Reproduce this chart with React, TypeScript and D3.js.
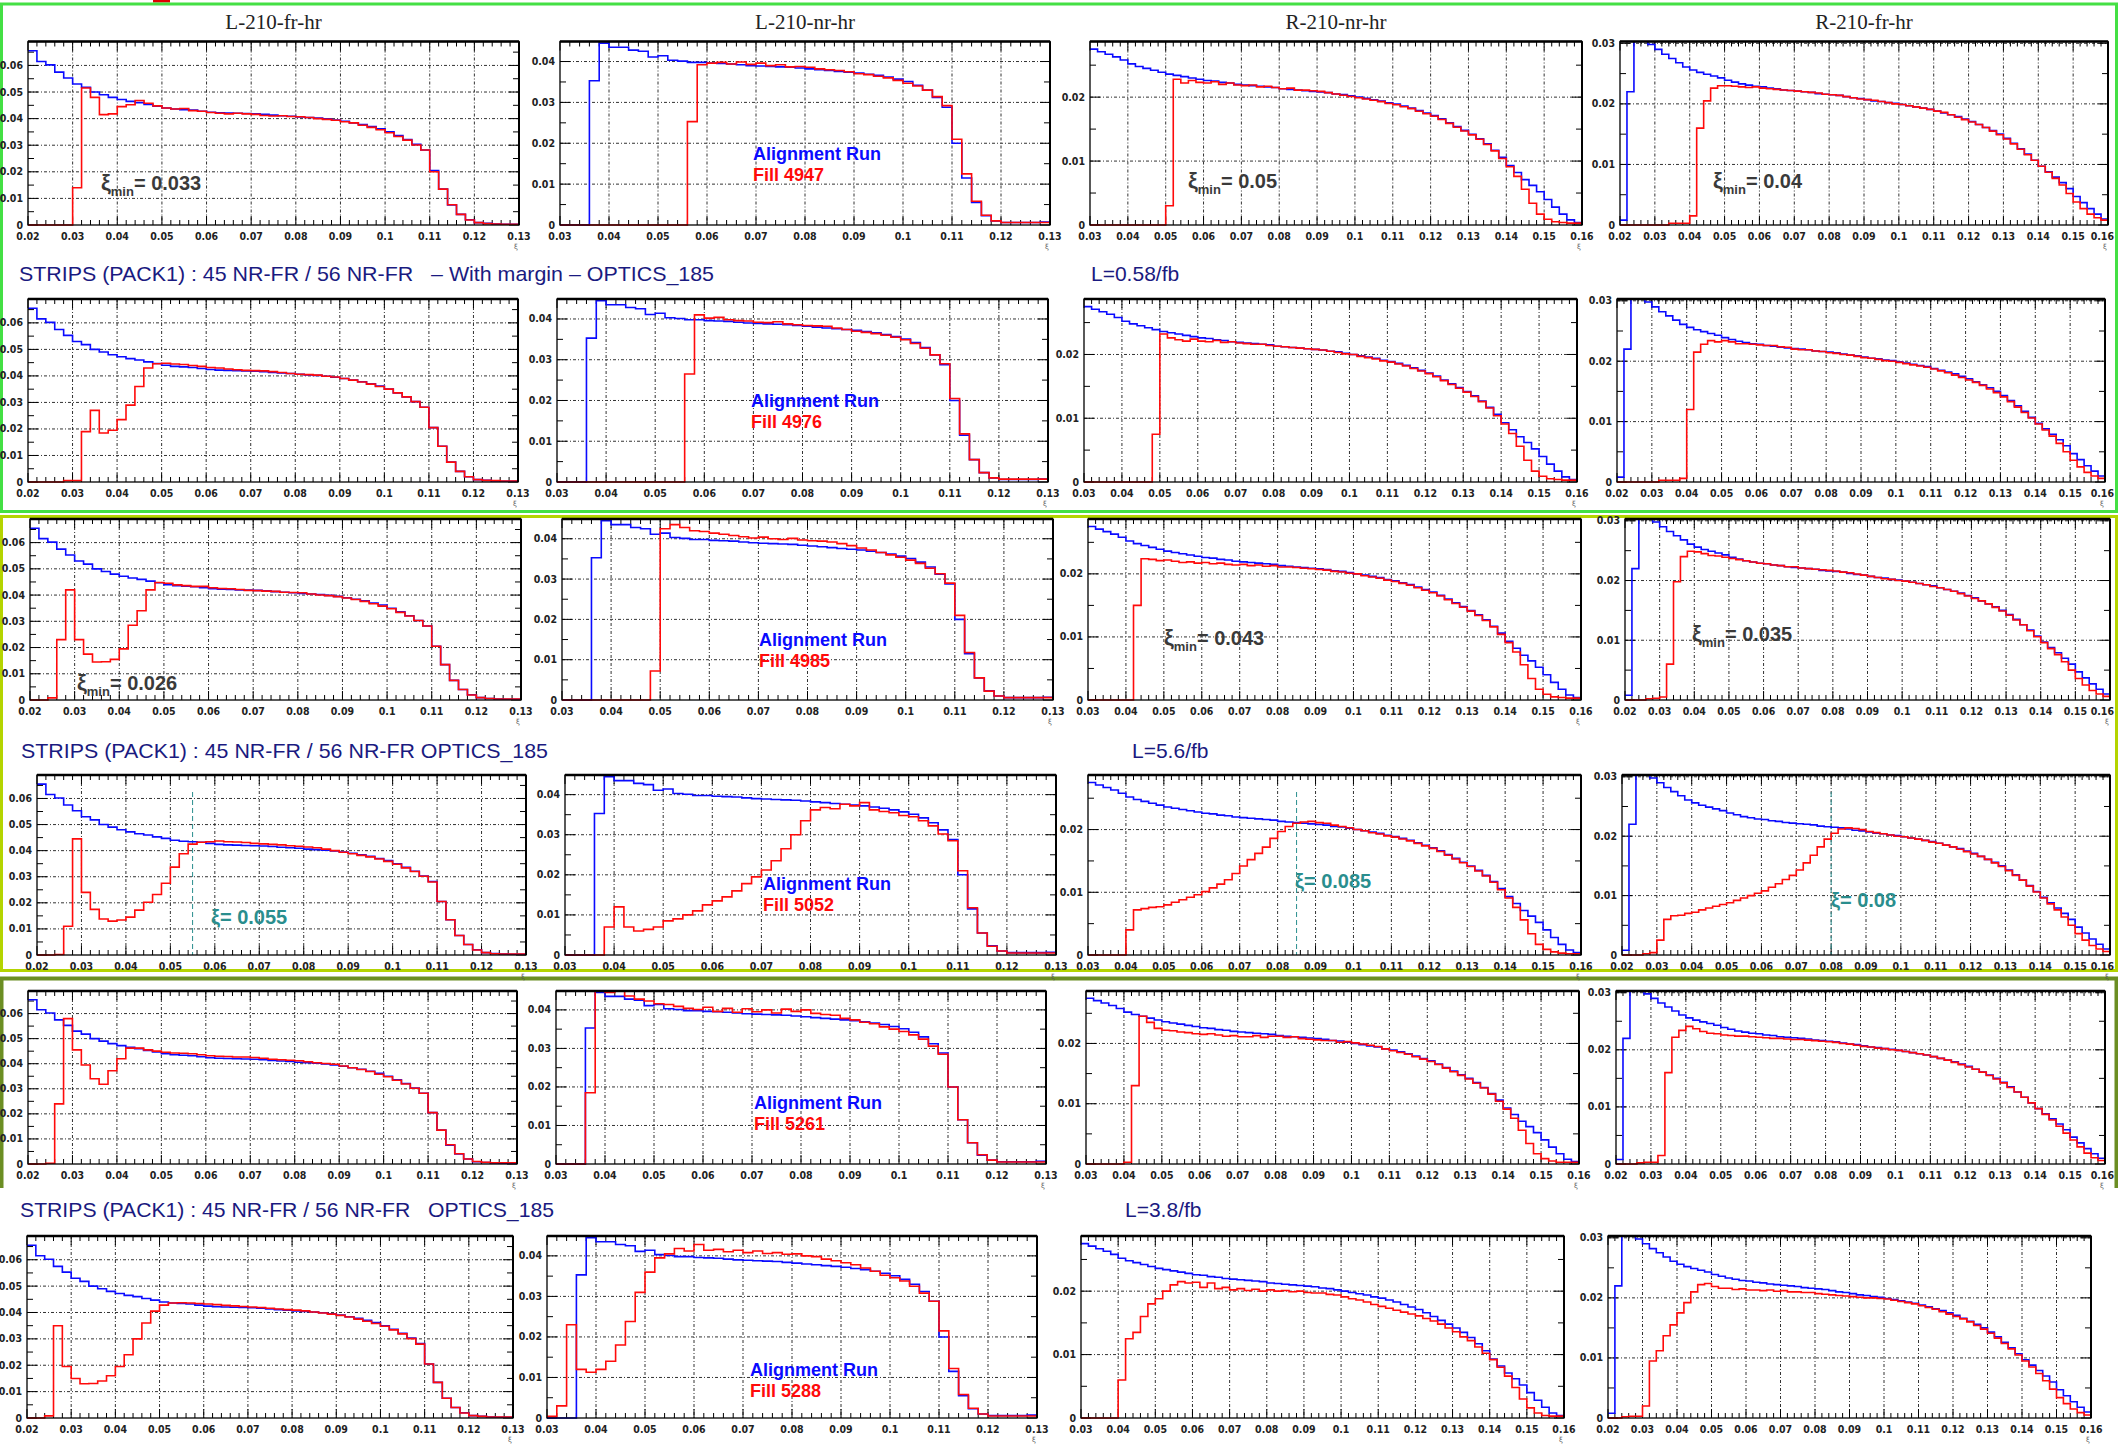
import React from "react";
import * as d3 from "d3";

// ================= DATA =================
const columnTitles = ["L-210-fr-hr", "L-210-nr-hr", "R-210-nr-hr", "R-210-fr-hr"];
const xiStart = [0.02, 0.03, 0.03, 0.02];
const xiEnd = [0.13, 0.13, 0.16, 0.16];
const yTop = [0.069, 0.0449, 0.0287, 0.0303];
const yTickLabels = [
  [0, 0.01, 0.02, 0.03, 0.04, 0.05, 0.06],
  [0, 0.01, 0.02, 0.03, 0.04],
  [0, 0.01, 0.02],
  [0, 0.01, 0.02, 0.03],
];
const binWidth = 0.002;
const valueUnit = 1e-4; // values below are in units of 1e-4

const fillNumbers = ["4947", "4976", "4985", "5052", "5261", "5288"];
const headerTexts = [
  "STRIPS (PACK1) : 45 NR-FR / 56 NR-FR   \u2013 With margin \u2013 OPTICS_185",
  "STRIPS (PACK1) : 45 NR-FR / 56 NR-FR OPTICS_185",
  "STRIPS (PACK1) : 45 NR-FR / 56 NR-FR   OPTICS_185",
];
const lumiTexts = ["L=0.58/fb", "L=5.6/fb", "L=3.8/fb"];
const xiMinLabels = ["0.033", "0.05", "0.04", "0.026", "0.043", "0.035"];
const xiCutValues = [0.055, 0.085, 0.08];
const xiCutLabels = ["0.055", "0.085", "0.08"];

// Alignment run (blue), one per column
const alignmentRunCol1 = [655,615,602,575,553, 530,518,500,490,480, 472,465,460,453,447, 440,436,434,432,428, 424,422,421,420,419, 418,416,413,411,409, 406,404,402,399,395, 390,384,378,370,362, 350,336,321,303,282, 205,135,75,40,20, 9,6,4,3,3];
const alignmentRunCol2 = [0,0,0,353,445, 435,435,428,425,411, 414,403,401,398,398, 396,395,394,392,390, 389,388,387,386,384, 382,380,378,376,374, 372,369,366,362,357, 351,342,330,312,288, 200,115,55,23,10, 6,6,6,6,7];
const alignmentRunCol3 = [275,271,267,263,258, 252,248,245,242,239, 236,234,232,230,228, 226,225,223,222,220, 219,218,217,216,215, 213,212,211,210,209, 208,207,205,204,202, 200,198,196,194,191, 189,186,183,179,175, 171,166,160,154,148, 142,135,127,117,106, 93,82,71,62,52, 40,28,17,8,4];
const alignmentRunCol4 = [8,220,380,340,298, 290,282,275,268,261, 256,252,249,246,243, 239,236,233,231,229, 228,226,225,223,222, 221,220,219,217,216, 215,214,212,210,209, 207,205,204,202,201, 199,197,195,193,191, 188,185,182,179,175, 171,166,161,156,150, 143,135,126,117,107, 97,88,79,70,60, 47,37,27,18,10];

// Fill 4947
const fill4947Col1 = [0,0,0,0,0, 140,515,480,415,418, 445,452,468,458,448, 440,436,438,430,428, 423,420,418,420,418, 416,412,410,411,408, 407,404,400,397,394, 388,384,375,367,358, 347,333,319,301,282, 200,135,76,40,19, 9,5,4,3,3];
const fill4947Col2 = [0,0,0,0,0, 0,0,0,0,0, 0,0,0,253,392, 396,398,394,399,393, 396,390,392,387,388, 386,382,380,378,375, 370,368,364,360,354, 347,340,330,314,292, 210,125,58,24,10, 6,6,6,6,6];
const fill4947Col3 = [0,0,0,0,0, 0,0,0,0,0, 30,228,222,226,223, 222,224,220,222,219, 218,219,216,217,215, 213,214,211,211,210, 209,207,205,203,201, 199,197,195,193,190, 188,185,182,178,174, 170,165,159,153,147, 141,134,126,116,104, 91,76,56,34,17, 9,5,4,3,3];
const fill4947Col4 = [0,0,0,0,0, 0,0,3,3,3, 15,160,205,226,230, 230,229,228,227,228, 226,225,224,223,222, 221,220,219,218,216, 215,214,212,210,208, 207,206,204,202,200, 199,197,195,193,191, 188,186,182,178,174, 170,166,161,155,149, 142,134,125,116,107, 97,87,77,66,52, 38,27,18,12,8];

// Fill 4976
const fill4976Col1 = [0,0,0,0,5, 5,190,270,185,195, 235,290,360,430,446, 448,445,443,439,436, 432,430,426,423,421, 420,419,416,413,409, 406,405,403,399,396, 390,384,377,369,360, 350,336,321,303,282, 205,135,75,40,20, 9,6,5,4,4];
const fill4976Col2 = [0,0,0,0,0, 0,0,0,0,0, 0,0,0,265,410, 402,404,398,396,395, 392,391,393,388,386, 384,383,382,378,374, 370,367,364,360,355, 349,340,328,312,290, 205,118,55,23,10, 7,7,7,7,7];
const fill4976Col3 = [0,0,0,0,0, 0,0,0,0,75, 232,226,223,221,224, 221,220,222,219,220, 218,217,216,216,214, 213,212,211,210,209, 208,207,205,203,201, 200,197,195,193,190, 188,185,182,178,174, 170,165,159,153,147, 141,134,126,116,104, 91,76,56,34,17, 9,5,4,3,3];
const fill4976Col4 = [0,0,0,0,0, 0,3,3,3,6, 120,215,228,234,232, 234,232,229,229,228, 227,226,226,224,223, 220,219,219,217,216, 214,213,211,210,208, 206,205,203,201,200, 198,196,194,192,190, 187,184,181,177,173, 169,165,160,154,148, 141,133,124,115,106, 96,86,76,64,50, 36,25,16,10,6];

// Fill 4985
const fill4985Col1 = [0,0,8,230,420, 230,175,145,146,155, 195,285,340,420,448, 445,439,436,433,433, 428,425,424,421,418, 417,415,414,411,410, 409,404,400,398,394, 389,383,376,367,358, 348,334,320,303,282, 205,135,75,40,19, 9,6,4,4,4];
const fill4985Col2 = [0,0,0,0,0, 0,0,0,0,72, 425,435,428,420,418, 414,411,408,405,402, 404,400,398,401,397, 395,394,392,388,383, 377,372,366,360,354, 347,339,327,313,290, 210,118,55,22,10, 6,6,6,6,6];
const fill4985Col3 = [0,0,0,0,0, 0,150,224,223,221, 222,220,218,219,217, 218,216,217,215,214, 215,213,214,212,213, 211,211,210,209,208, 207,206,204,203,201, 200,197,195,193,190, 188,185,182,178,174, 170,165,159,153,147, 141,134,126,116,104, 91,76,56,34,17, 9,5,4,3,3];
const fill4985Col4 = [0,0,0,2,3, 5,60,198,240,249, 248,245,242,241,239, 237,235,233,231,229, 228,226,225,223,223, 221,220,219,218,217, 216,214,213,211,209, 207,205,203,202,200, 199,197,195,193,190, 188,185,182,178,174, 170,166,161,155,149, 142,134,126,116,106, 96,86,76,64,50, 36,25,16,10,6];

// Fill 5052
const fill5052Col1 = [0,0,2,110,445, 240,175,138,130,134, 145,172,202,232,275, 337,388,425,432,434, 437,434,433,431,428, 426,424,422,419,417, 414,411,406,400,394, 388,382,376,368,359, 348,334,320,302,280, 205,135,75,40,19, 9,5,4,4,4];
const fill5052Col2 = [0,0,0,0,70, 120,70,60,64,70, 85,90,100,110,125, 135,145,160,178,195, 212,235,265,300,335, 362,368,365,376,372, 380,362,358,355,348, 345,335,322,302,285, 210,118,55,22,10, 5,5,5,5,5];
const fill5052Col3 = [0,0,0,0,0, 40,72,74,76,77, 80,84,88,92,96, 101,107,113,120,130, 142,152,162,172,186, 197,205,210,212,213, 211,210,207,205,203, 200,198,195,193,190, 188,185,182,178,174, 170,165,159,153,147, 141,134,126,116,104, 91,76,56,34,17, 9,5,3,2,2];
const fill5052Col4 = [0,0,0,2,4, 25,60,66,67,70, 72,76,79,82,85, 88,92,96,100,104, 108,114,120,127,134, 143,155,168,182,195, 205,212,214,213,211, 208,206,204,202,200, 199,197,195,193,190, 188,185,182,178,174, 170,166,161,155,149, 142,134,126,116,106, 96,86,76,64,50, 36,25,16,10,6];

// Fill 5261
const fill5261Col1 = [0,0,3,240,580, 455,395,340,318,372, 420,462,462,455,450, 446,443,442,440,436, 432,430,429,427,427, 425,422,418,416,414, 412,408,404,401,398, 391,384,377,369,358, 348,334,319,302,282, 205,135,77,41,20, 10,7,5,5,5];
const fill5261Col2 = [0,0,0,185,460, 445,449,436,428,423, 416,414,409,404,401, 407,396,404,394,403, 395,400,392,402,396, 400,391,388,386,378, 374,368,364,356,350, 344,335,324,306,285, 200,115,55,24,10, 5,5,5,5,5];
const fill5261Col3 = [0,0,0,0,0, 3,130,245,235,225, 222,221,219,218,216, 215,216,214,212,213, 211,211,213,210,212, 212,210,211,208,207, 206,205,205,202,203, 201,199,197,195,191, 188,185,182,178,174, 170,165,159,153,147, 141,134,126,116,104, 91,76,56,34,17, 9,5,3,3,3];
const fill5261Col4 = [0,0,0,2,3, 3,15,160,222,234, 241,237,232,229,228, 226,225,224,224,223, 222,221,220,220,219, 218,218,217,216,215, 214,213,211,210,208, 206,205,203,202,200, 199,197,195,193,191, 188,185,182,178,174, 170,166,161,155,149, 142,134,126,117,107, 97,87,77,66,54, 42,30,19,11,6];

// Fill 5288
const fill5288Col1 = [0,0,8,350,195, 150,130,131,140,160, 195,240,300,360,405, 428,436,437,436,434, 432,430,427,425,423, 421,419,416,413,411, 409,406,402,398,394, 389,383,375,367,358, 348,334,319,301,280, 205,135,75,40,19, 9,6,4,4,4];
const fill5288Col2 = [4,30,230,120,113, 120,140,180,238,310, 360,395,405,418,412, 428,414,416,410,414, 408,412,406,408,404, 405,400,398,392,388, 383,378,370,362,352, 346,338,325,308,288, 215,122,58,24,10, 5,5,5,5,5];
const fill5288Col3 = [0,0,0,0,0, 60,125,135,160,180, 188,200,210,215,213, 214,206,213,204,206, 202,204,201,203,200, 202,200,201,199,200, 198,197,197,195,194, 191,188,186,183,179, 176,173,170,167,164, 161,157,153,148,142, 136,128,122,112,102, 92,80,66,48,30, 16,8,4,3,3];
const fill5288Col4 = [0,0,2,3,3, 20,95,112,137,155, 175,192,210,222,224, 219,216,216,214,215, 213,213,212,213,211, 212,210,210,209,209, 207,206,205,204,203, 202,201,200,200,199, 198,196,194,192,190, 187,184,181,177,173, 169,165,160,154,148, 141,133,124,115,105, 95,85,74,62,48, 34,24,15,9,5];

const alignmentRun = [alignmentRunCol1, alignmentRunCol2, alignmentRunCol3, alignmentRunCol4];
const fillRuns = [
  [fill4947Col1, fill4947Col2, fill4947Col3, fill4947Col4],
  [fill4976Col1, fill4976Col2, fill4976Col3, fill4976Col4],
  [fill4985Col1, fill4985Col2, fill4985Col3, fill4985Col4],
  [fill5052Col1, fill5052Col2, fill5052Col3, fill5052Col4],
  [fill5261Col1, fill5261Col2, fill5261Col3, fill5261Col4],
  [fill5288Col1, fill5288Col2, fill5288Col3, fill5288Col4],
];

// ================= LAYOUT =================
const W = 2118;
const H = 1449;
const rowFrames = [[41.5, 225], [299, 482], [519, 700], [775, 955], [991, 1164], [1236, 1418]];
const colFrames = [
  [[28, 519], [560, 1050], [1090, 1582], [1620, 2108]],
  [[28, 518], [557, 1048], [1084, 1577], [1617, 2105]],
  [[30, 521], [562, 1053], [1088, 1581], [1625, 2110]],
  [[37, 526], [565, 1056], [1088, 1581], [1622, 2110]],
  [[28, 517], [556, 1046], [1086, 1579], [1616, 2105]],
  [[27, 513], [547, 1037], [1081, 1564], [1608, 2091]],
];
const alignLabelPos = [[753, 160], [751, 407], [759, 646], [763, 890], [754, 1109], [750, 1376]];
const xiMinPos = [
  { row: 0, col: 0, x: 101, y: 190 },
  { row: 0, col: 2, x: 1188, y: 188 },
  { row: 0, col: 3, x: 1713, y: 188 },
  { row: 2, col: 0, x: 77, y: 690 },
  { row: 2, col: 2, x: 1164, y: 645 },
  { row: 2, col: 3, x: 1692, y: 641 },
];
const xiCutPos = [
  { row: 3, col: 0, x: 211, y: 924 },
  { row: 3, col: 2, x: 1295, y: 888 },
  { row: 3, col: 3, x: 1831, y: 907 },
];
const headerPos = [
  { x: 19, y: 281, len: 695, lumiX: 1091 },
  { x: 21, y: 758, len: 527, lumiX: 1132 },
  { x: 20, y: 1217, len: 534, lumiX: 1125 },
];

const BLUE = "#0a0aff";
const RED = "#ff0a0a";
const TEAL = "#2a8e8e";
const NAVY = "#1a1a80";
const SANS = "'Liberation Sans', Arial, sans-serif";
const NUMFONT = "'Liberation Sans Narrow', 'DejaVu Sans Condensed', 'Liberation Sans', sans-serif";

const fmt = (v: number) => String(+v.toFixed(3));

function Panel({ row, col }: { row: number; col: number }) {
  const [left, right] = colFrames[row][col];
  const [top, bottom] = rowFrames[row];
  const x0 = xiStart[col];
  const x1 = xiEnd[col];
  const x = d3.scaleLinear().domain([x0, x1]).range([left, right]);
  const y = d3.scaleLinear().domain([0, yTop[col]]).range([bottom, top]);
  const line = d3
    .line<[number, number]>()
    .x((d) => x(d[0]))
    .y((d) => y(d[1]))
    .curve(d3.curveStepAfter);
  const toPts = (vals: number[]): [number, number][] => {
    const pts: [number, number][] = vals.map((v, i) => [x0 + i * binWidth, v * valueUnit]);
    pts.push([x0 + vals.length * binWidth, vals[vals.length - 1] * valueUnit]);
    return pts;
  };
  const nMinor = Math.round((x1 - x0) / binWidth);
  const xTicks = d3.range(nMinor + 1).map((i) => ({ v: x0 + i * binWidth, major: i % 5 === 0 }));
  const nY = Math.floor(yTop[col] / 0.005 + 1e-6);
  const yTicks = d3.range(nY + 1).map((i) => ({ v: i * 0.005, major: i % 2 === 0 }));
  const clipId = `clip-${row}-${col}`;
  const cut = xiCutPos.findIndex((p) => p.row === row && p.col === col);
  return (
    <g>
      <defs>
        <clipPath id={clipId}>
          <rect x={left} y={top} width={right - left} height={bottom - top + 3} />
        </clipPath>
      </defs>
      {/* grid */}
      {xTicks
        .filter((t) => t.major && t.v > x0 + 1e-6 && t.v < x1 - 1e-6)
        .map((t, i) => (
          <line key={"gx" + i} x1={x(t.v)} x2={x(t.v)} y1={top} y2={bottom} stroke="#333" strokeWidth={1} strokeDasharray="3,2,1,2" />
        ))}
      {yTicks
        .filter((t) => t.major && t.v > 1e-6)
        .map((t, i) => (
          <line key={"gy" + i} x1={left} x2={right} y1={y(t.v)} y2={y(t.v)} stroke="#333" strokeWidth={1} strokeDasharray="3,2,1,2" />
        ))}
      {/* ticks */}
      {xTicks.map((t, i) => {
        const L = t.major ? 9 : 5;
        return (
          <g key={"tx" + i}>
            <line x1={x(t.v)} x2={x(t.v)} y1={bottom} y2={bottom - L} stroke="#000" strokeWidth={1} />
            <line x1={x(t.v)} x2={x(t.v)} y1={top} y2={top + L} stroke="#000" strokeWidth={1} />
          </g>
        );
      })}
      {yTicks.map((t, i) => {
        const L = t.major ? 10 : 6;
        return (
          <g key={"ty" + i}>
            <line x1={left} x2={left + L} y1={y(t.v)} y2={y(t.v)} stroke="#000" strokeWidth={1} />
            <line x1={right} x2={right - L} y1={y(t.v)} y2={y(t.v)} stroke="#000" strokeWidth={1} />
          </g>
        );
      })}
      {/* cut line */}
      {cut >= 0 && (
        <line
          x1={x(xiCutValues[cut])}
          x2={x(xiCutValues[cut])}
          y1={top + 17}
          y2={bottom}
          stroke={TEAL}
          strokeWidth={1}
          strokeDasharray="5,3"
        />
      )}
      {/* histograms */}
      <g clipPath={`url(#${clipId})`}>
        <path d={line(toPts(alignmentRun[col])) || ""} fill="none" stroke={BLUE} strokeWidth={1.6} />
        <path d={line(toPts(fillRuns[row][col])) || ""} fill="none" stroke={RED} strokeWidth={1.6} />
      </g>
      {/* frame */}
      <rect x={left} y={top} width={right - left} height={bottom - top} fill="none" stroke="#000" strokeWidth={1.3} />
      <line x1={left} x2={right} y1={top} y2={top} stroke="#000" strokeWidth={2.5} />
      <line x1={right} x2={right} y1={top} y2={bottom} stroke="#000" strokeWidth={2} />
      {/* labels */}
      {xTicks
        .filter((t) => t.major)
        .map((t, i) => {
          const px = x(t.v);
          const clamp = px + 11 > W - 4;
          return (
            <text
              key={"lx" + i}
              x={clamp ? W - 4 : px}
              y={bottom + 15}
              textAnchor={clamp ? "end" : "middle"}
              fontFamily={NUMFONT}
              fontWeight="bold"
              fontSize={10.5}
              fill="#222"
            >
              {fmt(t.v)}
            </text>
          );
        })}
      {yTickLabels[col].map((v, i) => (
        <text key={"ly" + i} x={left - 5} y={y(v) + 3.5} textAnchor="end" fontFamily={NUMFONT} fontWeight="bold" fontSize={10.5} fill="#222">
          {fmt(v)}
        </text>
      ))}
      <text x={right - 5} y={bottom + 24} fontFamily="'DejaVu Sans', sans-serif" fontSize={7} fill="#555">
        ξ
      </text>
    </g>
  );
}

export default function App() {
  return (
    <svg width={W} height={H} style={{ position: "absolute", left: 0, top: 0, background: "#fff" }}>
      <rect x={0} y={0} width={W} height={H} fill="#fff" />
      {/* group boxes */}
      <rect x={153} y={0} width={17} height={2.5} fill="#e00000" />
      <rect x={1.5} y={4} width={2115} height={507.5} fill="none" stroke="#44e044" strokeWidth={3} />
      <rect x={1.5} y={516.5} width={2115} height={454} fill="none" stroke="#b4d400" strokeWidth={3} />
      <path d="M1.5,1188 V978.5 H2116.5 V1188" fill="none" stroke="#6b8e23" strokeWidth={4} />
      {/* column titles */}
      {columnTitles.map((t, c) => {
        const [l, r] = colFrames[0][c];
        return (
          <text key={t} x={(l + r) / 2} y={29} textAnchor="middle" fontFamily="'Liberation Serif', 'Times New Roman', serif" fontSize={21} fill="#222">
            {t}
          </text>
        );
      })}
      {/* headers */}
      {headerTexts.map((t, i) => (
        <g key={"h" + i}>
          <text
            x={headerPos[i].x}
            y={headerPos[i].y}
            fontFamily={SANS}
            fontSize={21}
            fill={NAVY}
            textLength={headerPos[i].len}
            lengthAdjust="spacingAndGlyphs"
            style={{ whiteSpace: "pre" }}
          >
            {t}
          </text>
          <text x={headerPos[i].lumiX} y={headerPos[i].y} fontFamily={SANS} fontSize={21} fill={NAVY}>
            {lumiTexts[i]}
          </text>
        </g>
      ))}
      {/* panels */}
      {fillRuns.map((_, r) => columnTitles.map((__, c) => <Panel key={`p${r}-${c}`} row={r} col={c} />))}
      {/* legend-like labels */}
      {fillNumbers.map((f, r) => (
        <g key={"al" + r}>
          <text x={alignLabelPos[r][0]} y={alignLabelPos[r][1]} fontFamily={SANS} fontWeight="bold" fontSize={18} fill={BLUE}>
            Alignment Run
          </text>
          <text x={alignLabelPos[r][0]} y={alignLabelPos[r][1] + 21} fontFamily={SANS} fontWeight="bold" fontSize={18} fill={RED}>
            {"Fill " + f}
          </text>
        </g>
      ))}
      {xiMinPos.map((p, i) => (
        <text key={"xm" + i} x={p.x} y={p.y} fontFamily={SANS} fontWeight="bold" fontSize={22} fill="#3a3a3a">
          ξ
          <tspan fontSize={13} dy={6}>
            min
          </tspan>
          <tspan fontSize={20} dy={-6}>
            {"= " + xiMinLabels[i]}
          </tspan>
        </text>
      ))}
      {xiCutPos.map((p, i) => (
        <text key={"xc" + i} x={p.x} y={p.y} fontFamily={SANS} fontWeight="bold" fontSize={20} fill={TEAL}>
          {"ξ= " + xiCutLabels[i]}
        </text>
      ))}
    </svg>
  );
}
